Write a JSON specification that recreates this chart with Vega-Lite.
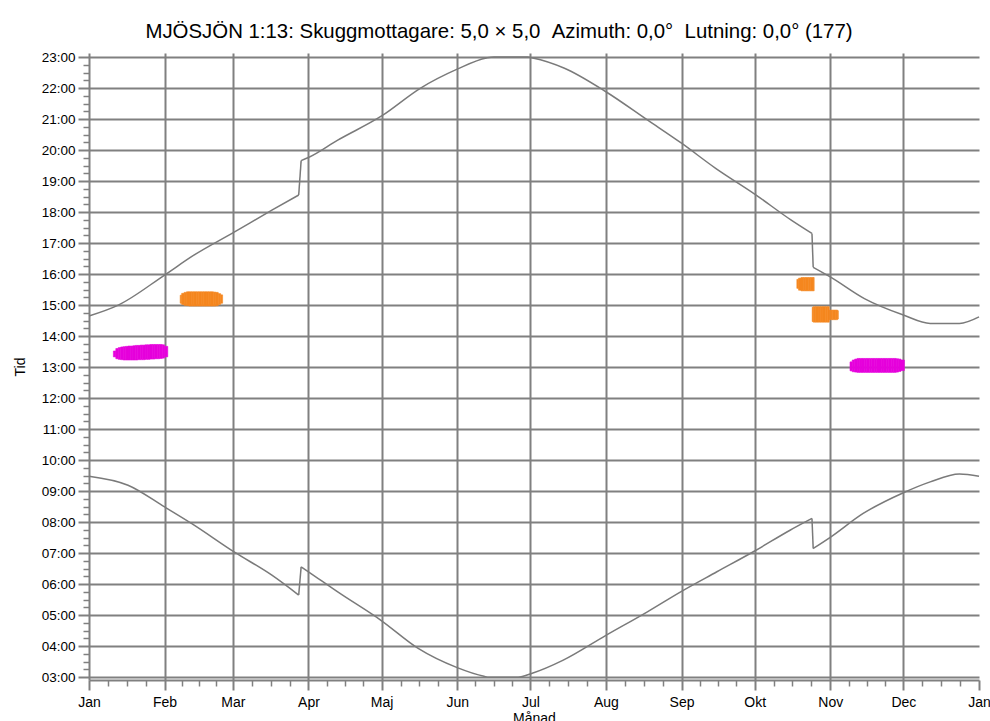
{
  "$schema": "https://vega.github.io/schema/vega-lite/v6.json",
  "width": 890,
  "height": 627,
  "autosize": {"type": "none"},
  "padding": {"left": 89, "top": 53, "right": 11, "bottom": 41},
  "background": "white",
  "config": {"font": "Liberation Sans", "view": {"stroke": null}},
  "title": {
    "text": "MJÖSJÖN 1:13: Skuggmottagare: 5,0 × 5,0 \u00a0Azimuth: 0,0° \u00a0Lutning: 0,0° (177)",
    "fontSize": 20.4, "fontWeight": "normal", "font": "Liberation Sans", "color": "black",
    "anchor": "middle", "frame": "group", "dx": -35, "offset": 8
  },
  "datasets": {
    "kurvor": [
      {"dag": 0, "tid": 9.48, "kurva": "upp", "del": "a"},
      {"dag": 16, "tid": 9.19, "kurva": "upp", "del": "a"},
      {"dag": 31, "tid": 8.49, "kurva": "upp", "del": "a"},
      {"dag": 42, "tid": 7.96, "kurva": "upp", "del": "a"},
      {"dag": 59.5, "tid": 7.04, "kurva": "upp", "del": "a"},
      {"dag": 75, "tid": 6.29, "kurva": "upp", "del": "a"},
      {"dag": 86, "tid": 5.65, "kurva": "upp", "del": "a"},
      {"dag": 86, "tid": 5.65, "kurva": "upp", "del": "j1"},
      {"dag": 87, "tid": 6.56, "kurva": "upp", "del": "j1"},
      {"dag": 87, "tid": 6.56, "kurva": "upp", "del": "b"},
      {"dag": 90, "tid": 6.4, "kurva": "upp", "del": "b"},
      {"dag": 102, "tid": 5.75, "kurva": "upp", "del": "b"},
      {"dag": 120, "tid": 4.82, "kurva": "upp", "del": "b"},
      {"dag": 135, "tid": 3.93, "kurva": "upp", "del": "b"},
      {"dag": 151, "tid": 3.31, "kurva": "upp", "del": "b"},
      {"dag": 162, "tid": 3.03, "kurva": "upp", "del": "b"},
      {"dag": 164, "tid": 3.0, "kurva": "upp", "del": "b"},
      {"dag": 176, "tid": 3.0, "kurva": "upp", "del": "b"},
      {"dag": 181.5, "tid": 3.12, "kurva": "upp", "del": "b"},
      {"dag": 194.5, "tid": 3.55, "kurva": "upp", "del": "b"},
      {"dag": 212, "tid": 4.35, "kurva": "upp", "del": "b"},
      {"dag": 229, "tid": 5.11, "kurva": "upp", "del": "b"},
      {"dag": 243, "tid": 5.77, "kurva": "upp", "del": "b"},
      {"dag": 257.5, "tid": 6.4, "kurva": "upp", "del": "b"},
      {"dag": 273, "tid": 7.07, "kurva": "upp", "del": "b"},
      {"dag": 287.5, "tid": 7.74, "kurva": "upp", "del": "b"},
      {"dag": 296.5, "tid": 8.12, "kurva": "upp", "del": "b"},
      {"dag": 296.5, "tid": 8.12, "kurva": "upp", "del": "j2"},
      {"dag": 297, "tid": 7.15, "kurva": "upp", "del": "j2"},
      {"dag": 297, "tid": 7.15, "kurva": "upp", "del": "c"},
      {"dag": 304, "tid": 7.51, "kurva": "upp", "del": "c"},
      {"dag": 317.5, "tid": 8.28, "kurva": "upp", "del": "c"},
      {"dag": 334, "tid": 8.95, "kurva": "upp", "del": "c"},
      {"dag": 345, "tid": 9.3, "kurva": "upp", "del": "c"},
      {"dag": 357, "tid": 9.55, "kurva": "upp", "del": "c"},
      {"dag": 365, "tid": 9.48, "kurva": "upp", "del": "c"},
      {"dag": 0, "tid": 14.65, "kurva": "ned", "del": "a"},
      {"dag": 12, "tid": 15.0, "kurva": "ned", "del": "a"},
      {"dag": 31, "tid": 15.97, "kurva": "ned", "del": "a"},
      {"dag": 43, "tid": 16.61, "kurva": "ned", "del": "a"},
      {"dag": 59, "tid": 17.33, "kurva": "ned", "del": "a"},
      {"dag": 75, "tid": 18.06, "kurva": "ned", "del": "a"},
      {"dag": 86, "tid": 18.55, "kurva": "ned", "del": "a"},
      {"dag": 86, "tid": 18.55, "kurva": "ned", "del": "j1"},
      {"dag": 87, "tid": 19.66, "kurva": "ned", "del": "j1"},
      {"dag": 87, "tid": 19.66, "kurva": "ned", "del": "b"},
      {"dag": 90, "tid": 19.76, "kurva": "ned", "del": "b"},
      {"dag": 102, "tid": 20.32, "kurva": "ned", "del": "b"},
      {"dag": 120, "tid": 21.1, "kurva": "ned", "del": "b"},
      {"dag": 136, "tid": 22.0, "kurva": "ned", "del": "b"},
      {"dag": 151, "tid": 22.61, "kurva": "ned", "del": "b"},
      {"dag": 163, "tid": 22.97, "kurva": "ned", "del": "b"},
      {"dag": 166, "tid": 23.0, "kurva": "ned", "del": "b"},
      {"dag": 180, "tid": 23.0, "kurva": "ned", "del": "b"},
      {"dag": 182, "tid": 22.97, "kurva": "ned", "del": "b"},
      {"dag": 195, "tid": 22.64, "kurva": "ned", "del": "b"},
      {"dag": 212, "tid": 21.88, "kurva": "ned", "del": "b"},
      {"dag": 229, "tid": 20.97, "kurva": "ned", "del": "b"},
      {"dag": 243, "tid": 20.22, "kurva": "ned", "del": "b"},
      {"dag": 257, "tid": 19.41, "kurva": "ned", "del": "b"},
      {"dag": 273, "tid": 18.58, "kurva": "ned", "del": "b"},
      {"dag": 288, "tid": 17.74, "kurva": "ned", "del": "b"},
      {"dag": 296.5, "tid": 17.31, "kurva": "ned", "del": "b"},
      {"dag": 296.5, "tid": 17.31, "kurva": "ned", "del": "j2"},
      {"dag": 297, "tid": 16.22, "kurva": "ned", "del": "j2"},
      {"dag": 297, "tid": 16.22, "kurva": "ned", "del": "c"},
      {"dag": 304, "tid": 15.91, "kurva": "ned", "del": "c"},
      {"dag": 318, "tid": 15.21, "kurva": "ned", "del": "c"},
      {"dag": 334, "tid": 14.68, "kurva": "ned", "del": "c"},
      {"dag": 345, "tid": 14.41, "kurva": "ned", "del": "c"},
      {"dag": 357, "tid": 14.41, "kurva": "ned", "del": "c"},
      {"dag": 365, "tid": 14.62, "kurva": "ned", "del": "c"}
    ],
    "skugga": [
      {"d0": 10.0, "d1": 11, "t0": 13.33, "t1": 13.52, "k": "A"},
      {"d0": 11, "d1": 12, "t0": 13.27, "t1": 13.6, "k": "A"},
      {"d0": 12, "d1": 13, "t0": 13.25, "t1": 13.63, "k": "A"},
      {"d0": 13, "d1": 14, "t0": 13.24, "t1": 13.65, "k": "A"},
      {"d0": 14, "d1": 15, "t0": 13.23, "t1": 13.66, "k": "A"},
      {"d0": 15, "d1": 16, "t0": 13.23, "t1": 13.67, "k": "A"},
      {"d0": 16, "d1": 17, "t0": 13.23, "t1": 13.68, "k": "A"},
      {"d0": 17, "d1": 18, "t0": 13.23, "t1": 13.68, "k": "A"},
      {"d0": 18, "d1": 19, "t0": 13.23, "t1": 13.69, "k": "A"},
      {"d0": 19, "d1": 20, "t0": 13.23, "t1": 13.7, "k": "A"},
      {"d0": 20, "d1": 21, "t0": 13.24, "t1": 13.7, "k": "A"},
      {"d0": 21, "d1": 22, "t0": 13.24, "t1": 13.71, "k": "A"},
      {"d0": 22, "d1": 23, "t0": 13.24, "t1": 13.71, "k": "A"},
      {"d0": 23, "d1": 24, "t0": 13.25, "t1": 13.72, "k": "A"},
      {"d0": 24, "d1": 25, "t0": 13.25, "t1": 13.72, "k": "A"},
      {"d0": 25, "d1": 26, "t0": 13.26, "t1": 13.73, "k": "A"},
      {"d0": 26, "d1": 27, "t0": 13.26, "t1": 13.73, "k": "A"},
      {"d0": 27, "d1": 28, "t0": 13.27, "t1": 13.73, "k": "A"},
      {"d0": 28, "d1": 29, "t0": 13.27, "t1": 13.73, "k": "A"},
      {"d0": 29, "d1": 30, "t0": 13.28, "t1": 13.73, "k": "A"},
      {"d0": 30, "d1": 31, "t0": 13.29, "t1": 13.72, "k": "A"},
      {"d0": 31, "d1": 32.3, "t0": 13.33, "t1": 13.67, "k": "A"},
      {"d0": 37.4, "d1": 38, "t0": 15.06, "t1": 15.32, "k": "B"},
      {"d0": 38, "d1": 39, "t0": 15.02, "t1": 15.38, "k": "B"},
      {"d0": 39, "d1": 40, "t0": 14.99, "t1": 15.41, "k": "B"},
      {"d0": 40, "d1": 41, "t0": 14.98, "t1": 15.43, "k": "B"},
      {"d0": 41, "d1": 42, "t0": 14.97, "t1": 15.43, "k": "B"},
      {"d0": 42, "d1": 43, "t0": 14.97, "t1": 15.43, "k": "B"},
      {"d0": 43, "d1": 44, "t0": 14.97, "t1": 15.43, "k": "B"},
      {"d0": 44, "d1": 45, "t0": 14.97, "t1": 15.43, "k": "B"},
      {"d0": 45, "d1": 46, "t0": 14.97, "t1": 15.43, "k": "B"},
      {"d0": 46, "d1": 47, "t0": 14.97, "t1": 15.43, "k": "B"},
      {"d0": 47, "d1": 48, "t0": 14.97, "t1": 15.43, "k": "B"},
      {"d0": 48, "d1": 49, "t0": 14.97, "t1": 15.43, "k": "B"},
      {"d0": 49, "d1": 50, "t0": 14.97, "t1": 15.43, "k": "B"},
      {"d0": 50, "d1": 51, "t0": 14.97, "t1": 15.43, "k": "B"},
      {"d0": 51, "d1": 52, "t0": 14.97, "t1": 15.42, "k": "B"},
      {"d0": 52, "d1": 53, "t0": 14.98, "t1": 15.41, "k": "B"},
      {"d0": 53, "d1": 54, "t0": 15.02, "t1": 15.37, "k": "B"},
      {"d0": 54, "d1": 54.8, "t0": 15.06, "t1": 15.33, "k": "B"},
      {"d0": 290.3, "d1": 291, "t0": 15.54, "t1": 15.83, "k": "B"},
      {"d0": 291, "d1": 292, "t0": 15.48, "t1": 15.87, "k": "B"},
      {"d0": 292, "d1": 293, "t0": 15.46, "t1": 15.89, "k": "B"},
      {"d0": 293, "d1": 294, "t0": 15.46, "t1": 15.89, "k": "B"},
      {"d0": 294, "d1": 295, "t0": 15.46, "t1": 15.89, "k": "B"},
      {"d0": 295, "d1": 296, "t0": 15.46, "t1": 15.89, "k": "B"},
      {"d0": 296, "d1": 297, "t0": 15.46, "t1": 15.89, "k": "B"},
      {"d0": 297, "d1": 297.4, "t0": 15.46, "t1": 15.89, "k": "B"},
      {"d0": 296.6, "d1": 297, "t0": 14.47, "t1": 14.93, "k": "B"},
      {"d0": 297, "d1": 298, "t0": 14.45, "t1": 14.95, "k": "B"},
      {"d0": 298, "d1": 299, "t0": 14.45, "t1": 14.95, "k": "B"},
      {"d0": 299, "d1": 300, "t0": 14.45, "t1": 14.95, "k": "B"},
      {"d0": 300, "d1": 301, "t0": 14.45, "t1": 14.95, "k": "B"},
      {"d0": 301, "d1": 302, "t0": 14.45, "t1": 14.95, "k": "B"},
      {"d0": 302, "d1": 303, "t0": 14.45, "t1": 14.95, "k": "B"},
      {"d0": 303, "d1": 303.6, "t0": 14.45, "t1": 14.95, "k": "B"},
      {"d0": 303.6, "d1": 304, "t0": 14.53, "t1": 14.84, "k": "B"},
      {"d0": 304, "d1": 305, "t0": 14.53, "t1": 14.84, "k": "B"},
      {"d0": 305, "d1": 306, "t0": 14.53, "t1": 14.84, "k": "B"},
      {"d0": 306, "d1": 307, "t0": 14.53, "t1": 14.84, "k": "B"},
      {"d0": 307, "d1": 307.3, "t0": 14.55, "t1": 14.82, "k": "B"},
      {"d0": 312.1, "d1": 313, "t0": 12.88, "t1": 13.17, "k": "A"},
      {"d0": 313, "d1": 314, "t0": 12.85, "t1": 13.23, "k": "A"},
      {"d0": 314, "d1": 315, "t0": 12.84, "t1": 13.26, "k": "A"},
      {"d0": 315, "d1": 316, "t0": 12.83, "t1": 13.28, "k": "A"},
      {"d0": 316, "d1": 317, "t0": 12.83, "t1": 13.28, "k": "A"},
      {"d0": 317, "d1": 318, "t0": 12.83, "t1": 13.28, "k": "A"},
      {"d0": 318, "d1": 319, "t0": 12.83, "t1": 13.28, "k": "A"},
      {"d0": 319, "d1": 320, "t0": 12.83, "t1": 13.28, "k": "A"},
      {"d0": 320, "d1": 321, "t0": 12.83, "t1": 13.28, "k": "A"},
      {"d0": 321, "d1": 322, "t0": 12.83, "t1": 13.28, "k": "A"},
      {"d0": 322, "d1": 323, "t0": 12.83, "t1": 13.28, "k": "A"},
      {"d0": 323, "d1": 324, "t0": 12.83, "t1": 13.28, "k": "A"},
      {"d0": 324, "d1": 325, "t0": 12.83, "t1": 13.28, "k": "A"},
      {"d0": 325, "d1": 326, "t0": 12.83, "t1": 13.28, "k": "A"},
      {"d0": 326, "d1": 327, "t0": 12.83, "t1": 13.28, "k": "A"},
      {"d0": 327, "d1": 328, "t0": 12.83, "t1": 13.28, "k": "A"},
      {"d0": 328, "d1": 329, "t0": 12.83, "t1": 13.28, "k": "A"},
      {"d0": 329, "d1": 330, "t0": 12.83, "t1": 13.28, "k": "A"},
      {"d0": 330, "d1": 331, "t0": 12.83, "t1": 13.28, "k": "A"},
      {"d0": 331, "d1": 332, "t0": 12.84, "t1": 13.27, "k": "A"},
      {"d0": 332, "d1": 333, "t0": 12.86, "t1": 13.26, "k": "A"},
      {"d0": 333, "d1": 334.4, "t0": 12.89, "t1": 13.23, "k": "A"}
    ]
  },
  "layer": [
    {
      "data": {"name": "skugga"},
      "mark": {"type": "rect", "strokeWidth": 0.6},
      "encoding": {
        "x": {
          "field": "d0", "type": "quantitative",
          "scale": {"domain": [0, 365], "nice": false, "zero": false},
          "axis": {
            "orient": "bottom",
            "values": [31, 59, 90, 120, 151, 181, 212, 243, 273, 304, 334],
            "labelExpr": "['Jan','Feb','Mar','Apr','Maj','Jun','Jul','Aug','Sep','Okt','Nov','Dec','Jan'][indexof([0,31,59,90,120,151,181,212,243,273,304,334,365], datum.value)]",
            "grid": true, "gridColor": "#808080", "gridWidth": 2, "gridOpacity": 1,
            "domain": true, "domainColor": "#808080", "domainWidth": 2,
            "ticks": true, "tickColor": "#808080", "tickWidth": 2, "tickSize": 10,
            "labelFontSize": 14, "labelColor": "black", "labelPadding": 5,
            "labelFlush": false, "labelOverlap": false,
            "title": "Månad", "titleFontSize": 14, "titleFontWeight": "normal",
            "titleColor": "black", "titlePadding": 2
          }
        },
        "x2": {"field": "d1"},
        "y": {
          "field": "t0", "type": "quantitative",
          "scale": {"domain": [2.91, 23.13], "nice": false, "zero": false},
          "axis": {
            "orient": "left",
            "values": [3, 4, 5, 6, 7, 8, 9, 10, 11, 12, 13, 14, 15, 16, 17, 18, 19, 20, 21, 22, 23],
            "labelExpr": "(datum.value < 10 ? '0' : '') + datum.value + ':00'",
            "grid": true, "gridColor": "#808080", "gridWidth": 2, "gridOpacity": 1,
            "domain": true, "domainColor": "#808080", "domainWidth": 2,
            "ticks": true, "tickColor": "#808080", "tickWidth": 2, "tickSize": 11,
            "labelFontSize": 13.5, "labelColor": "black", "labelPadding": 3,
            "labelFlush": false, "labelOverlap": false,
            "title": "Tid", "titleFontSize": 14, "titleFontWeight": "normal",
            "titleColor": "black", "titlePadding": 14
          }
        },
        "y2": {"field": "t1"},
        "color": {
          "field": "k", "type": "nominal",
          "scale": {"domain": ["A", "B"], "range": ["#e600dc", "#f5871f"]},
          "legend": null
        },
        "stroke": {
          "field": "k", "type": "nominal",
          "scale": {"domain": ["A", "B"], "range": ["#e600dc", "#f5871f"]},
          "legend": null
        }
      }
    },
    {
      "data": {"name": "kurvor"},
      "transform": [{"filter": "datum.kurva == 'upp'"}],
      "mark": {"type": "line", "color": "#7a7a7a", "strokeWidth": 1.5, "interpolate": "monotone"},
      "encoding": {
        "x": {
          "field": "dag", "type": "quantitative",
          "scale": {"domain": [0, 365], "nice": false, "zero": false},
          "axis": {
            "orient": "bottom",
            "values": [0, 365],
            "labelExpr": "'Jan'",
            "grid": false, "domain": false,
            "ticks": true, "tickColor": "#808080", "tickWidth": 2, "tickSize": 10,
            "labelFontSize": 14, "labelColor": "black", "labelPadding": 5,
            "labelFlush": false, "labelOverlap": false, "title": null
          }
        },
        "y": {
          "field": "tid", "type": "quantitative",
          "scale": {"domain": [2.91, 23.13], "nice": false, "zero": false},
          "axis": {
            "orient": "left",
            "values": [3.25,3.5,3.75,4.25,4.5,4.75,5.25,5.5,5.75,6.25,6.5,6.75,7.25,7.5,7.75,8.25,8.5,8.75,9.25,9.5,9.75,10.25,10.5,10.75,11.25,11.5,11.75,12.25,12.5,12.75,13.25,13.5,13.75,14.25,14.5,14.75,15.25,15.5,15.75,16.25,16.5,16.75,17.25,17.5,17.75,18.25,18.5,18.75,19.25,19.5,19.75,20.25,20.5,20.75,21.25,21.5,21.75,22.25,22.5,22.75],
            "labels": false, "grid": false, "domain": false,
            "ticks": true, "tickColor": "#808080", "tickWidth": 1.5, "tickSize": 6,
            "title": null
          }
        },
        "detail": {"field": "del", "type": "nominal"}
      }
    },
    {
      "data": {"name": "kurvor"},
      "transform": [{"filter": "datum.kurva == 'ned'"}],
      "mark": {"type": "line", "color": "#7a7a7a", "strokeWidth": 1.5, "interpolate": "monotone"},
      "encoding": {
        "x": {
          "field": "dag", "type": "quantitative",
          "scale": {"domain": [0, 365], "nice": false, "zero": false},
          "axis": {
            "orient": "bottom",
            "values": [7.75,15.5,23.25,38,45,52,66.75,74.5,82.25,97.5,105,112.5,127.75,135.5,143.25,158.5,166,173.5,188.75,196.5,204.25,219.75,227.5,235.25,250.5,258,265.5,280.75,288.5,296.25,311.5,319,326.5,341.75,349.5,357.25],
            "labels": false, "grid": false, "domain": false,
            "ticks": true, "tickColor": "#808080", "tickWidth": 1.5, "tickSize": 6,
            "title": null
          }
        },
        "y": {
          "field": "tid", "type": "quantitative",
          "scale": {"domain": [2.91, 23.13], "nice": false, "zero": false},
          "axis": null
        },
        "detail": {"field": "del", "type": "nominal"}
      }
    }
  ],
  "resolve": {"axis": {"x": "independent", "y": "independent"}}
}
